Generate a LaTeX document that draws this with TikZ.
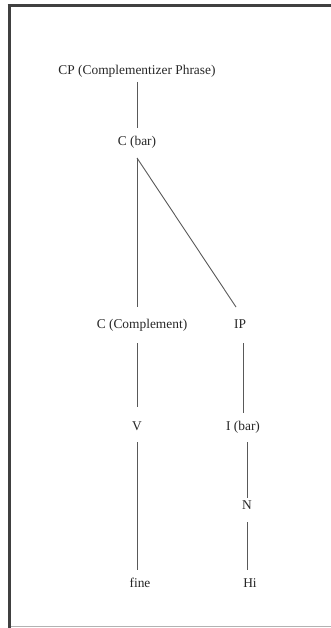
\documentclass[tikz,border=0pt]{standalone}
\usepackage{fontspec}
\setmainfont{Liberation Serif}
\begin{document}
\begin{tikzpicture}[x=1pt,y=-1pt,
  lbl/.style={inner sep=0pt, outer sep=0pt, text height=8pt, text depth=3pt,
    font=\fontsize{13.4}{16}\selectfont, text=black!85},
  edge/.style={draw=black!65, line width=0.9pt}]
\useasboundingbox (0,0) rectangle (330,628);
% frame
\draw[black!75, line width=2.5pt] (7.5,5.5) -- (331,5.5);
\draw[black!75, line width=3pt] (9,4.5) -- (9,629);
\draw[black!30, line width=1.2pt] (10.5,626.5) -- (331,626.5);
% nodes
\node[lbl] (cp) at (137,72) {CP (Complementizer Phrase)};
\node[lbl] (cbar) at (137,143.5) {C (bar)};
\node[lbl] (ccomp) at (142,325.5) {C (Complement)};
\node[lbl] (ip) at (240,325.5) {IP};
\node[lbl] (v) at (137,428) {V};
\node[lbl] (ibar) at (243,428) {I (bar)};
\node[lbl] (n) at (247,507) {N};
\node[lbl] (fine) at (140,585) {fine};
\node[lbl] (hi) at (250,585) {Hi};
% connectors
\draw[edge, shorten <=4.5pt, shorten >=10pt] (cp.south) -- (cbar.north);
\draw[edge, shorten <=9pt, shorten >=13pt] (cbar.south) -- (cbar.south |- ccomp.north);
\draw[edge] ([yshift=-9pt]cbar.south) -- ([xshift=-4pt,yshift=13pt]ip.north);
\draw[edge, shorten <=12pt, shorten >=15.5pt] (v.north |- ccomp.south) -- (v.north);
\draw[edge, shorten <=8.5pt, shorten >=9.5pt] (v.south) -- (v.south |- fine.north);
\draw[edge, shorten <=12pt, shorten >=9.5pt] (ibar.north |- ip.south) -- (ibar.north);
\draw[edge, shorten <=8.5pt, shorten >=3.5pt] (n.north |- ibar.south) -- (n.north);
\draw[edge, shorten <=9.5pt, shorten >=9.5pt] (n.south) -- (n.south |- hi.north);
\end{tikzpicture}
\end{document}
